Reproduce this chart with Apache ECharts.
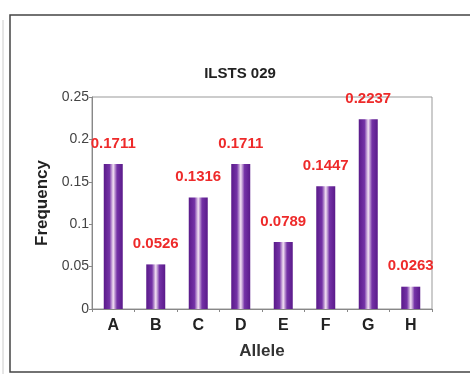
<!DOCTYPE html>
<html>
<head>
<meta charset="utf-8">
<script src="https://cdn.jsdelivr.net/npm/echarts@6/dist/echarts.min.js"></script>
<style>
  html, body { margin: 0; padding: 0; background: #fff; }
  #chart { width: 470px; height: 374px; }
</style>
</head>
<body>
<div id="chart"></div>
<script>
// Allele frequencies at the ILSTS 029 locus
const alleles = ['A', 'B', 'C', 'D', 'E', 'F', 'G', 'H'];
const frequencies = [0.1711, 0.0526, 0.1316, 0.1711, 0.0789, 0.1447, 0.2237, 0.0263];
const yTicks = [0, 0.05, 0.1, 0.15, 0.2, 0.25];

const chart = echarts.init(document.getElementById('chart'));

// Cylinder-like shading across each bar
const barFill = new echarts.graphic.LinearGradient(0, 0, 1, 0, [
  { offset: 0, color: '#5a1a8a' },
  { offset: 0.3, color: '#7432a6' },
  { offset: 0.5, color: '#f3e2f3' },
  { offset: 0.7, color: '#7432a6' },
  { offset: 1, color: '#5a1a8a' }
]);

chart.setOption({
  animation: false,
  backgroundColor: '#fff',
  title: {
    text: 'ILSTS 029',
    left: 235,
    top: 61,
    textAlign: 'center',
    textStyle: { fontFamily: 'Liberation Sans', fontSize: 15, fontWeight: 'bold', color: '#222' }
  },
  grid: { left: 92, right: 38, top: 97, bottom: 65, show: true, borderColor: '#999', borderWidth: 1 },
  xAxis: {
    type: 'category',
    data: alleles,
    name: 'Allele',
    nameLocation: 'middle',
    nameGap: 34,
    nameTextStyle: { fontFamily: 'Liberation Sans', fontSize: 17, fontWeight: 'bold', color: '#333' },
    axisLine: { lineStyle: { color: '#888' } },
    axisTick: { show: true, length: 3, lineStyle: { color: '#888' } },
    axisLabel: { fontFamily: 'Liberation Sans', fontSize: 16, fontWeight: 'bold', color: '#222', margin: 9 }
  },
  yAxis: {
    type: 'value',
    min: 0,
    max: 0.25,
    interval: 0.05,
    name: 'Frequency',
    nameLocation: 'middle',
    nameGap: 40,
    nameTextStyle: { fontFamily: 'Liberation Sans', fontSize: 17, fontWeight: 'bold', color: '#222' },
    splitLine: { show: false },
    axisLine: { show: true, lineStyle: { color: '#888' } },
    axisTick: { show: true, length: 3, lineStyle: { color: '#888' } },
    axisLabel: {
      fontFamily: 'Liberation Sans', fontSize: 14, color: '#444', margin: 3,
      formatter: v => {
        const t = yTicks.find(x => Math.abs(x - v) < 1e-9);
        return t === undefined ? '' : String(t);
      }
    }
  },
  series: [{
    type: 'bar',
    data: frequencies,
    barWidth: 19,
    itemStyle: { color: barFill },
    label: {
      show: true,
      position: 'top',
      distance: 13,
      fontFamily: 'Liberation Sans',
      fontSize: 15,
      fontWeight: 'bold',
      color: '#ee2a2a',
      formatter: p => p.value.toFixed(4)
    }
  }],
  graphic: [
    { type: 'rect', shape: { x: 10, y: 15, width: 470, height: 357 }, style: { fill: 'none', stroke: '#444', lineWidth: 1.5 }, silent: true },
    { type: 'line', shape: { x1: 3, y1: 20, x2: 3, y2: 374 }, style: { stroke: '#ccc', lineWidth: 1 }, silent: true }
  ]
});
</script>
</body>
</html>
